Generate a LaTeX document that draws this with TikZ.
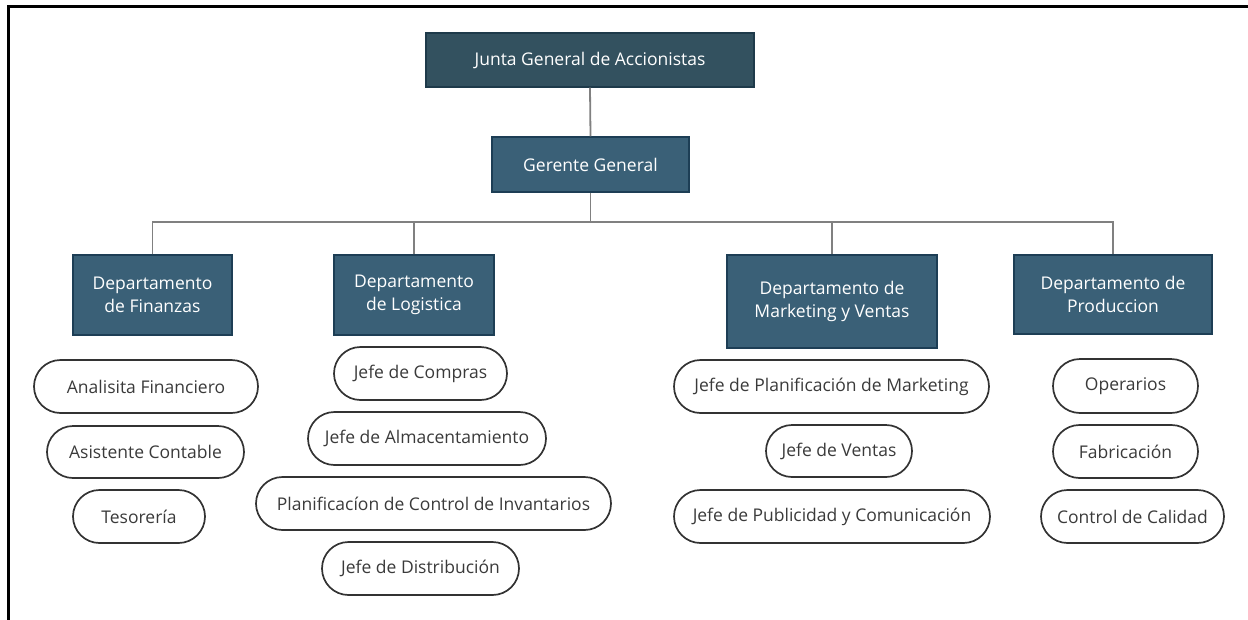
\documentclass[tikz,border=0pt]{standalone}
\usepackage{fontspec}
\setmainfont{Open Sans}
\usetikzlibrary{shapes.misc}
\definecolor{topfill}{HTML}{33515F}
\definecolor{topdraw}{HTML}{1E3A4A}
\definecolor{depfill}{HTML}{3A6077}
\definecolor{depdraw}{HTML}{1D3E55}
\definecolor{conncol}{HTML}{808080}
\definecolor{pilltext}{HTML}{3A3A3A}
\definecolor{pilldraw}{HTML}{333333}
\begin{document}
\begin{tikzpicture}[x=1pt,y=-1pt,
  box/.style={draw=depdraw,fill=depfill,text=white,line width=1.3pt,align=center,inner sep=0pt,font=\fontsize{17.5}{23}\selectfont},
  topbox/.style={box,draw=topdraw,fill=topfill},
  pill/.style={rounded rectangle,draw=pilldraw,line width=1.7pt,text=pilltext,inner sep=0pt,minimum height=53pt,font=\fontsize{17.5}{21}\selectfont},
  conn/.style={draw=conncol,line width=1.8pt}]
\useasboundingbox (0,0) rectangle (1248,619);
\draw[line width=3pt,line cap=rect] (1248,6) -- (8,6) -- (8,619);
% top levels
\node[topbox,minimum width=328pt,minimum height=54pt] (junta) at (590,60) {Junta General de Accionistas};
\node[box,minimum width=197pt,minimum height=55pt] (ger) at (590.5,164.5) {Gerente General};
% departments
\node[box,minimum width=159pt,minimum height=80pt] (fin) at (152.5,295) {Departamento\\de Finanzas};
\node[box,minimum width=160pt,minimum height=80pt] (log) at (414,295) {Departamento\\de Logistica};
\node[box,minimum width=210pt,minimum height=93pt] (mkt) at (832,301.5) {Departamento de\\Marketing y Ventas};
\node[box,minimum width=198pt,minimum height=79pt] (prod) at (1113,294.5) {Departamento de\\Produccion};
% connectors
\coordinate (busL) at (152.5,222);
\coordinate (busR) at (1113,222);
\draw[conn] (junta.south) -- (ger.north);
\draw[conn] (fin.north) |- (busR) -- (prod.north);
\draw[conn] (ger.south) -- (ger.south |- busL);
\draw[conn] (log.north) -- (log.north |- busL);
\draw[conn] (mkt.north) -- (mkt.north |- busL);
% finanzas
\node[pill,minimum width=224pt] (f1) at (146,386.5) {Analisita Financiero};
\node[pill,minimum width=197pt,minimum height=52pt] (f2) at (145.5,452) {Asistente Contable};
\node[pill,minimum width=132pt] (f3) at (139,516.5) {Tesorería};
% logistica
\node[pill,minimum width=173pt] (l1) at (420.5,373.5) {Jefe de Compras};
\node[pill,minimum width=238pt] (l2) at (427,438.5) {Jefe de Almacentamiento};
\node[pill,minimum width=355pt] (l3) at (433.5,503.5) {Planificacíon de Control de Invantarios};
\node[pill,minimum width=197pt] (l4) at (420.5,568.5) {Jefe de Distribución};
% marketing
\node[pill,minimum width=315pt] (m1) at (831.5,386.5) {Jefe de Planificación de Marketing};
\node[pill,minimum width=146pt,minimum height=52pt] (m2) at (839,451) {Jefe de Ventas};
\node[pill,minimum width=316pt] (m3) at (832,516.5) {Jefe de Publicidad y Comunicación};
% produccion
\node[pill,minimum width=145pt,minimum height=54pt] (p1) at (1125.5,386) {Operarios};
\node[pill,minimum width=145pt] (p2) at (1125.5,451.5) {Fabricación};
\node[pill,minimum width=183pt] (p3) at (1132.5,516.5) {Control de Calidad};
\end{tikzpicture}
\end{document}
